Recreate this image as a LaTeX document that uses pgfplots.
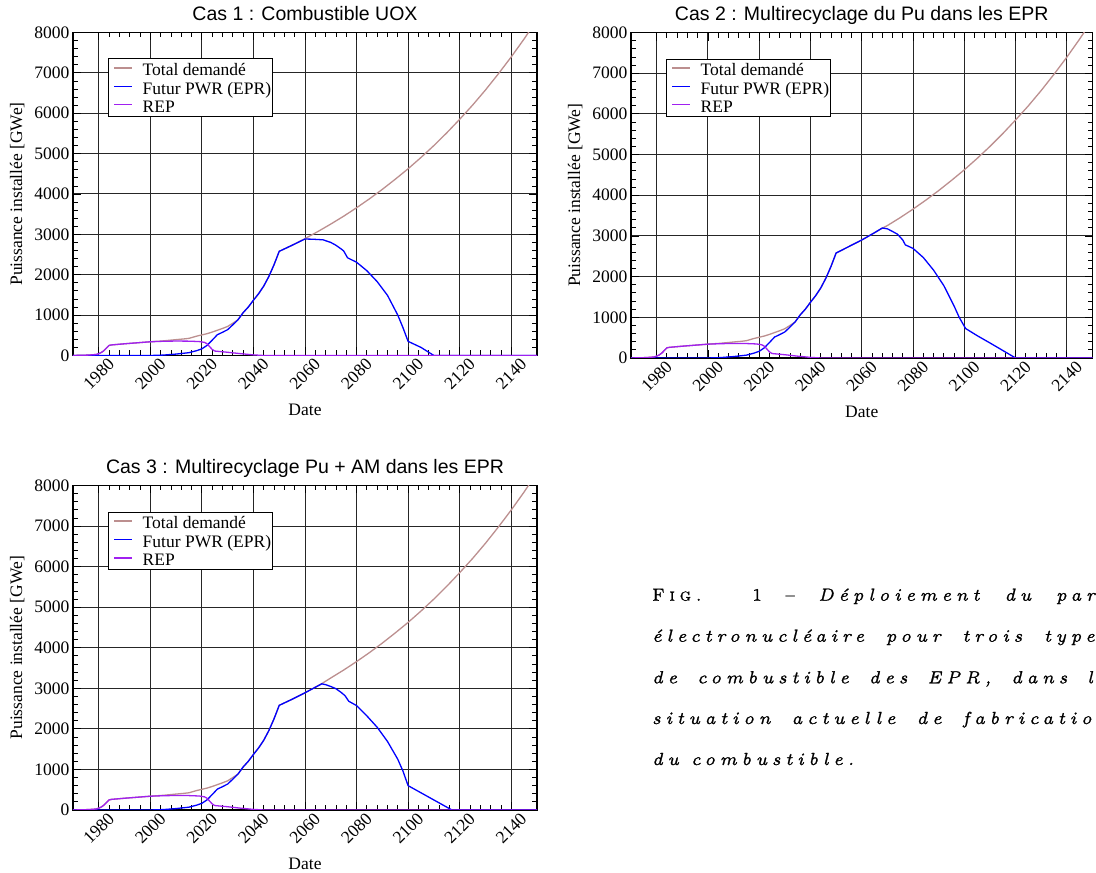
\documentclass[border=0pt]{standalone}
\usepackage{fontspec}
\usepackage{pgfplots}
\usepackage{pgfplotstable}
\pgfplotsset{compat=1.18}
\setmainfont{Liberation Serif}
\newfontfamily\titlefont{Liberation Sans}
\newfontfamily\capit[LetterSpace=28, FakeBold=1.2]{lmroman7-italic.otf}
\newfontfamily\capsc[LetterSpace=28, FakeBold=1.2]{lmromancaps10-regular.otf}
\newcommand\tf{\fontsize{17.5}{21}\selectfont}
\newcommand\ttf{\titlefont\fontsize{19.5}{23}\selectfont}
\definecolor{totc}{RGB}{188,143,143}
\definecolor{eprc}{RGB}{0,0,255}
\definecolor{repc}{RGB}{160,32,240}

\pgfplotstableread{
x y
1970 0
1976 10
1979 25
1980 45
1981 75
1982 120
1983 185
1984 250
1985 262
1990 290
1995 315
2000 340
2005 352
2010 358
2015 355
2019 345
2021 325
2022 290
2023 220
2024 150
2025 110
2030 80
2035 45
2040 15
2044 0
2150 0
}\rep

\pgfplotstableread{
x y
1970 0
1976 10
1979 25
1980 45
1981 75
1982 120
1983 185
1984 250
1985 262
1990 290
1995 315
2000 340
2005 362
2010 393
2013 410
2015 425
2018 480
2020 510
2022 540
2024 580
2026 625
2028 670
2030 720
2032 800
2034 885
2036 1060
2038 1200
2040 1370
2042 1530
2044 1720
2046 1960
2048 2250
2050 2580
2055 2730
2060 2895
2065 3070
2070 3255
2075 3450
2080 3659
2085 3880
2090 4115
2095 4365
2100 4625
2105 4905
2110 5200
2115 5515
2120 5850
2125 6200
2130 6575
2135 6975
2140 7395
2145 7840
2150 8315
}\totA

\pgfplotstableread{
x y
1970 0
1976 10
1979 25
1980 45
1981 75
1982 120
1983 185
1984 250
1985 262
1990 290
1995 315
2000 340
2005 362
2010 393
2013 410
2015 425
2018 480
2020 510
2022 540
2024 580
2026 625
2028 670
2030 720
2032 800
2034 885
2036 1060
2038 1200
2040 1370
2042 1530
2044 1720
2046 1960
2048 2250
2050 2580
2055 2740
2060 2900
2065 3080
2068 3190
2070 3255
2075 3450
2080 3659
2085 3880
2090 4115
2095 4365
2100 4625
2105 4905
2110 5200
2115 5515
2120 5850
2125 6200
2130 6575
2135 6975
2140 7395
2145 7840
2150 8315
}\totB

\pgfplotstableread{
x y
1970 0
1976 10
1979 25
1980 45
1981 75
1982 120
1983 185
1984 250
1985 262
1990 290
1995 315
2000 340
2005 362
2010 393
2013 410
2015 425
2018 480
2020 510
2022 540
2024 580
2026 625
2028 670
2030 720
2032 800
2034 885
2036 1060
2038 1200
2040 1370
2042 1530
2044 1720
2046 1960
2048 2250
2050 2580
2055 2730
2060 2890
2066.5 3115
2070 3255
2075 3450
2080 3659
2085 3880
2090 4115
2095 4365
2100 4625
2105 4905
2110 5200
2115 5515
2120 5850
2125 6200
2130 6575
2135 6975
2140 7395
2145 7840
2150 8315
}\totC

\pgfplotstableread{
x y
1970 0
2000 0
2005 10
2010 35
2015 70
2018 120
2020 165
2022 250
2024 380
2026 515
2028 575
2030 640
2032 760
2034 885
2036 1060
2038 1200
2040 1370
2042 1530
2044 1720
2046 1960
2048 2250
2050 2580
2055 2730
2060 2885
2063 2880
2067 2865
2070 2800
2072 2730
2074 2640
2075 2590
2076.5 2420
2080 2310
2084 2100
2088 1830
2092 1490
2096 1000
2098 690
2100 350
2105 200
2110 0
2150 0
}\eprA

\pgfplotstableread{
x y
1970 0
2000 0
2005 10
2010 35
2015 70
2018 120
2020 165
2022 250
2024 380
2026 515
2028 575
2030 640
2032 760
2034 885
2036 1060
2038 1200
2040 1370
2042 1530
2044 1720
2046 1960
2048 2250
2050 2580
2055 2740
2060 2900
2065 3080
2068 3195
2070 3175
2072 3110
2074 3040
2076 2900
2077 2780
2080 2694
2084 2470
2088 2160
2092 1780
2096 1280
2098 1000
2100.5 725
2105 550
2110 370
2115 185
2120 0
2150 0
}\eprB

\pgfplotstableread{
x y
1970 0
2000 0
2005 10
2010 35
2015 70
2018 120
2020 165
2022 250
2024 380
2026 515
2028 575
2030 640
2032 760
2034 885
2036 1060
2038 1200
2040 1370
2042 1530
2044 1720
2046 1960
2048 2250
2050 2580
2055 2730
2060 2890
2066.5 3110
2068 3090
2070 3045
2072 2990
2074 2900
2075.5 2820
2077 2680
2080 2574
2084 2320
2088 2040
2092 1690
2096 1250
2098 960
2100 600
2105 424
2110 247
2117 0
2150 0
}\eprC

\pgfplotsset{
  casstyle/.style={
    scale only axis, anchor=south west,
    xmin=1970, xmax=2150, ymin=0, ymax=8000,
    xtick={1980,2000,...,2140}, ytick={0,1000,...,8000},
    minor x tick num=4, minor y tick num=4,
    major tick length=8pt, minor tick length=5pt,
    tick style={black, line width=0.8pt},
    grid=major, major grid style={black!85, line width=1pt},
    axis line style={black, line width=1.3pt},
    /pgf/number format/assume math mode=true,
    /pgf/number format/1000 sep={},
    tick label style={font=\tf},
    xticklabel style={rotate=45, anchor=center},
    xticklabel shift=18.3pt,
    yticklabel style={anchor=east, inner xsep=0pt},
    yticklabel shift=3.5pt,
    title style={font=\ttf, at={(axis description cs:0.5,1)}, anchor=base, yshift=5.6pt},
    xlabel={Date}, xlabel style={font=\tf, at={(axis description cs:0.5,0)}, anchor=base, yshift=-60pt},
    ylabel={Puissance installée [GWe]}, ylabel style={font=\tf, anchor=base},
    legend style={draw=black, line width=0.8pt, fill=white, inner sep=1.33pt,
      font=\tf, anchor=north west, row sep=0pt,
      nodes={inner sep=0pt, text height=15.4pt, text depth=3pt}},
    legend cell align=left,
    legend image code/.code={\path (0pt,0pt) (32pt,0pt); \draw[##1, line width=1.4pt] (4pt,1.5pt) -- (22pt,1.5pt);},
    every axis plot/.append style={line width=1.3pt},
  }
}

\begin{document}
\begin{tikzpicture}
\path[use as bounding box] (0,0) rectangle (1096pt,873pt);

\begin{axis}[casstyle, at={(73pt,517.5pt)}, width=464pt, height=323pt,
  title={Cas 1 : Combustible UOX},
  ylabel style={at={(axis description cs:-0.1099,0.5)}},
  legend style={at={(axis description cs:0.0748,0.9195)}}]
\addlegendimage{draw=totc}
\addlegendentry{Total demandé}
\addlegendimage{draw=eprc}
\addlegendentry{Futur PWR (EPR)}
\addlegendimage{draw=repc}
\addlegendentry{REP}
\addplot[totc, forget plot] table {\totA};
\addplot[eprc, forget plot] table {\eprA};
\addplot[repc, forget plot] table {\rep};
\end{axis}

\begin{axis}[casstyle, at={(631pt,515pt)}, width=461.5pt, height=325.5pt,
  title={Cas 2 : Multirecyclage du Pu dans les EPR},
  ylabel style={at={(axis description cs:-0.1105,0.5)}},
  legend style={at={(axis description cs:0.0752,0.92)}}]
\addlegendimage{draw=totc}
\addlegendentry{Total demandé}
\addlegendimage{draw=eprc}
\addlegendentry{Futur PWR (EPR)}
\addlegendimage{draw=repc}
\addlegendentry{REP}
\addplot[totc, forget plot] table {\totB};
\addplot[eprc, forget plot] table {\eprB};
\addplot[repc, forget plot] table {\rep};
\end{axis}

\begin{axis}[casstyle, at={(73pt,63pt)}, width=464pt, height=324.5pt,
  title={Cas 3 : Multirecyclage Pu + AM dans les EPR},
  ylabel style={at={(axis description cs:-0.1099,0.5)}},
  legend style={at={(axis description cs:0.0748,0.9195)}}]
\addlegendimage{draw=totc}
\addlegendentry{Total demandé}
\addlegendimage{draw=eprc}
\addlegendentry{Futur PWR (EPR)}
\addlegendimage{draw=repc}
\addlegendentry{REP}
\addplot[totc, forget plot] table {\totC};
\addplot[eprc, forget plot] table {\eprC};
\addplot[repc, forget plot] table {\rep};
\end{axis}

\begin{scope}[every node/.style={anchor=base west, inner sep=0pt}]
\node at (652pt,272.3pt) {\makebox[456pt][s]{\fontsize{17.5}{41}\capsc Fig. 1 – \capit Déploiement du parc}};
\node at (652pt,231.3pt) {\makebox[456pt][s]{\fontsize{17.5}{41}\capit électronucléaire pour trois types}};
\node at (652pt,189.7pt) {\makebox[456pt][s]{\fontsize{17.5}{41}\capit de combustible des EPR, dans la}};
\node at (652pt,149pt) {\makebox[456pt][s]{\fontsize{17.5}{41}\capit situation actuelle de fabrication}};
\node at (652pt,108pt) {\fontsize{17.5}{41}\capit du combustible.};
\end{scope}
\end{tikzpicture}
\end{document}
